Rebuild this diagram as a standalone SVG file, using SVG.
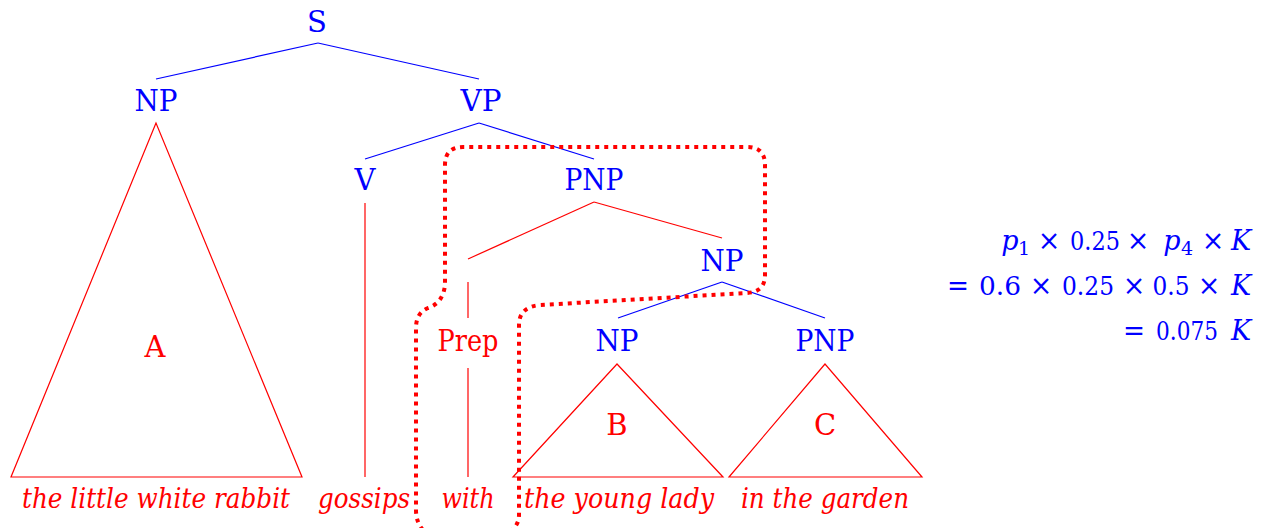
<svg xmlns="http://www.w3.org/2000/svg" width="1277" height="528" viewBox="0 0 1277 528">
  <style>
    text { font-family: "DejaVu Serif", serif; }
    .lab { font-size: 29px; text-anchor: middle; }
    .b { fill: #0000ff; }
    .r { fill: #ff0000; }
    .word { font-size: 27px; font-style: italic; text-anchor: middle; fill: #ff0000; }
    .eb { stroke: #0000ff; stroke-width: 1.2; fill: none; }
    .er { stroke: #ff0000; stroke-width: 1.2; fill: none; }
    .tri { stroke: #ff0000; stroke-width: 1.2; fill: none; stroke-linejoin: miter; }
    .m { font-size: 27px; fill: #0000ff; text-anchor: middle; }
    .n { font-size: 26px; fill: #0000ff; text-anchor: middle; }
    .mi { font-size: 27px; fill: #0000ff; font-style: italic; text-anchor: middle; }
    .ms { font-size: 19px; fill: #0000ff; text-anchor: middle; }
    .dot { stroke: #ff0000; stroke-width: 4; fill: none; stroke-dasharray: 4 5; }
  </style>

  <!-- tree edges -->
  <g id="connectors">
    <line class="eb" x1="318" y1="43" x2="156" y2="79"/>
    <line class="eb" x1="318" y1="43" x2="479" y2="79"/>
    <line class="eb" x1="479" y1="123" x2="365" y2="159"/>
    <line class="eb" x1="479" y1="123" x2="594" y2="159"/>
    <line class="er" x1="365" y1="203" x2="365" y2="477"/>
    <line class="er" x1="594" y1="202" x2="468" y2="259"/>
    <line class="er" x1="594" y1="202" x2="722" y2="238"/>
    <line class="er" x1="468" y1="282" x2="468" y2="318"/>
    <line class="er" x1="468" y1="368" x2="468" y2="477"/>
    <line class="eb" x1="722" y1="282" x2="618" y2="318"/>
    <line class="eb" x1="722" y1="282" x2="825" y2="318"/>
  </g>

  <g id="node-S"><text class="lab b" x="317" y="32">S</text></g>
  <g id="node-NP"><text class="lab b" x="156" y="111" textLength="43" lengthAdjust="spacingAndGlyphs">NP</text></g>
  <g id="node-VP"><text class="lab b" x="481" y="111" textLength="41" lengthAdjust="spacingAndGlyphs">VP</text></g>
  <g id="node-V"><text class="lab b" x="365" y="190">V</text></g>
  <g id="node-PNP"><text class="lab b" x="594" y="190" textLength="59" lengthAdjust="spacingAndGlyphs">PNP</text></g>
  <g id="node-NP2"><text class="lab b" x="722" y="271" textLength="43" lengthAdjust="spacingAndGlyphs">NP</text></g>
  <g id="node-Prep"><text class="lab r" x="468" y="351" textLength="61" lengthAdjust="spacingAndGlyphs">Prep</text></g>
  <g id="node-NP3"><text class="lab b" x="617" y="351" textLength="43" lengthAdjust="spacingAndGlyphs">NP</text></g>
  <g id="node-PNP2"><text class="lab b" x="825" y="351" textLength="59" lengthAdjust="spacingAndGlyphs">PNP</text></g>

  <!-- subtree triangles -->
  <g id="tri-A">
    <polygon class="tri" points="156,123 11,477 302,477"/>
    <text class="lab r" x="155" y="357">A</text>
  </g>
  <g id="tri-B">
    <polygon class="tri" points="617,364 513,477 723,477"/>
    <text class="lab r" x="617" y="435">B</text>
  </g>
  <g id="tri-C">
    <polygon class="tri" points="825,364 729,477 922,477"/>
    <text class="lab r" x="825" y="435">C</text>
  </g>

  <!-- leaf words -->
  <g id="words">
    <text class="word" x="156" y="508" textLength="268" lengthAdjust="spacingAndGlyphs">the little white rabbit</text>
    <text class="word" x="364" y="508" textLength="92" lengthAdjust="spacingAndGlyphs">gossips</text>
    <text class="word" x="468" y="508" textLength="53" lengthAdjust="spacingAndGlyphs">with</text>
    <text class="word" x="619" y="508" textLength="190" lengthAdjust="spacingAndGlyphs">the young lady</text>
    <text class="word" x="825" y="508" textLength="168" lengthAdjust="spacingAndGlyphs">in the garden</text>
  </g>

  <!-- dotted region boundary -->
  <g id="region">
    <path class="dot" d="M 423,530 Q 416,522 416,510 L 416,328 Q 416,313 428,308 Q 443,303 445,285 L 445,165 Q 445,147 463,147 L 747,147 Q 765,147 765,165 L 765,275 Q 765,292 747,293 L 540,305 Q 519,307 519,325 L 519,515 Q 519,524 512,530"/>
  </g>

  <!-- probability computation -->
  <g id="formula">
    <!-- line 1 -->
    <text class="mi" x="1010" y="250">p</text>
    <text class="ms" x="1024" y="255">1</text>
    <text class="m" x="1049" y="250">×</text>
    <text class="n" x="1095" y="250" textLength="50" lengthAdjust="spacingAndGlyphs">0.25</text>
    <text class="m" x="1138" y="250">×</text>
    <text class="mi" x="1172" y="250">p</text>
    <text class="ms" x="1187" y="255">4</text>
    <text class="m" x="1213" y="250">×</text>
    <text class="mi" x="1241" y="250">K</text>
    <!-- line 2 -->
    <text class="m" x="958" y="295" textLength="22" lengthAdjust="spacingAndGlyphs">=</text>
    <text class="n" x="1000" y="295" textLength="42" lengthAdjust="spacingAndGlyphs">0.6</text>
    <text class="m" x="1041" y="295">×</text>
    <text class="n" x="1088" y="295" textLength="52" lengthAdjust="spacingAndGlyphs">0.25</text>
    <text class="m" x="1134" y="295">×</text>
    <text class="n" x="1171" y="295" textLength="37" lengthAdjust="spacingAndGlyphs">0.5</text>
    <text class="m" x="1209" y="295">×</text>
    <text class="mi" x="1241" y="295">K</text>
    <!-- line 3 -->
    <text class="m" x="1134" y="340" textLength="22" lengthAdjust="spacingAndGlyphs">=</text>
    <text class="n" x="1187" y="340" textLength="62" lengthAdjust="spacingAndGlyphs">0.075</text>
    <text class="mi" x="1241" y="340">K</text>
  </g>
</svg>
